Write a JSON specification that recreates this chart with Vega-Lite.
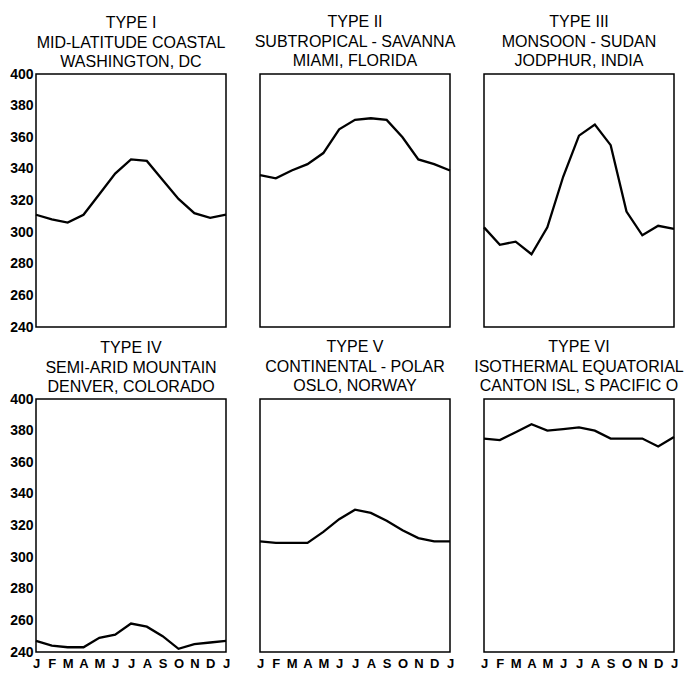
{
  "$schema": "https://vega.github.io/schema/vega-lite/v6.json",
  "background": "white",
  "padding": {"left": 8, "top": 13, "right": 2, "bottom": 4},
  "data": {"values": [
    {"p":1,"m":0,"v":311},{"p":1,"m":1,"v":308},{"p":1,"m":2,"v":306},{"p":1,"m":3,"v":311},{"p":1,"m":4,"v":324},{"p":1,"m":5,"v":337},{"p":1,"m":6,"v":346},{"p":1,"m":7,"v":345},{"p":1,"m":8,"v":333},{"p":1,"m":9,"v":321},{"p":1,"m":10,"v":312},{"p":1,"m":11,"v":309},{"p":1,"m":12,"v":311},
    {"p":2,"m":0,"v":336},{"p":2,"m":1,"v":334},{"p":2,"m":2,"v":339},{"p":2,"m":3,"v":343},{"p":2,"m":4,"v":350},{"p":2,"m":5,"v":365},{"p":2,"m":6,"v":371},{"p":2,"m":7,"v":372},{"p":2,"m":8,"v":371},{"p":2,"m":9,"v":360},{"p":2,"m":10,"v":346},{"p":2,"m":11,"v":343},{"p":2,"m":12,"v":339},
    {"p":3,"m":0,"v":303},{"p":3,"m":1,"v":292},{"p":3,"m":2,"v":294},{"p":3,"m":3,"v":286},{"p":3,"m":4,"v":303},{"p":3,"m":5,"v":335},{"p":3,"m":6,"v":361},{"p":3,"m":7,"v":368},{"p":3,"m":8,"v":355},{"p":3,"m":9,"v":313},{"p":3,"m":10,"v":298},{"p":3,"m":11,"v":304},{"p":3,"m":12,"v":302},
    {"p":4,"m":0,"v":247},{"p":4,"m":1,"v":244},{"p":4,"m":2,"v":243},{"p":4,"m":3,"v":243},{"p":4,"m":4,"v":249},{"p":4,"m":5,"v":251},{"p":4,"m":6,"v":258},{"p":4,"m":7,"v":256},{"p":4,"m":8,"v":250},{"p":4,"m":9,"v":242},{"p":4,"m":10,"v":245},{"p":4,"m":11,"v":246},{"p":4,"m":12,"v":247},
    {"p":5,"m":0,"v":310},{"p":5,"m":1,"v":309},{"p":5,"m":2,"v":309},{"p":5,"m":3,"v":309},{"p":5,"m":4,"v":316},{"p":5,"m":5,"v":324},{"p":5,"m":6,"v":330},{"p":5,"m":7,"v":328},{"p":5,"m":8,"v":323},{"p":5,"m":9,"v":317},{"p":5,"m":10,"v":312},{"p":5,"m":11,"v":310},{"p":5,"m":12,"v":310},
    {"p":6,"m":0,"v":375},{"p":6,"m":1,"v":374},{"p":6,"m":2,"v":379},{"p":6,"m":3,"v":384},{"p":6,"m":4,"v":380},{"p":6,"m":5,"v":381},{"p":6,"m":6,"v":382},{"p":6,"m":7,"v":380},{"p":6,"m":8,"v":375},{"p":6,"m":9,"v":375},{"p":6,"m":10,"v":375},{"p":6,"m":11,"v":370},{"p":6,"m":12,"v":376}
  ]},
  "columns": 3,
  "spacing": {"column": 34, "row": 72},
  "bounds": "flush",
  "concat": [
    {
      "title": {"text": ["TYPE I", "MID-LATITUDE COASTAL", "WASHINGTON, DC"], "offset": -3},
      "width": 190, "height": 253,
      "transform": [{"filter": "datum.p == 1"}],
      "mark": {"type": "line", "color": "black", "strokeWidth": 2.3},
      "encoding": {
        "x": {"field": "m", "type": "quantitative", "scale": {"domain": [0, 12], "nice": false}, "axis": null},
        "y": {"field": "v", "type": "quantitative", "scale": {"domain": [240, 400], "nice": false, "zero": false},
              "axis": {"values": [240,260,280,300,320,340,360,380,400], "domain": false, "ticks": false, "grid": false, "title": null, "labelFont": "Liberation Sans", "labelFontSize": 14, "labelFontWeight": "bold", "labelPadding": 3, "labelColor": "black", "labelOverlap": false}}
      }
    },
    {
      "title": {"text": ["TYPE II", "SUBTROPICAL - SAVANNA", "MIAMI, FLORIDA"]},
      "width": 190, "height": 253,
      "transform": [{"filter": "datum.p == 2"}],
      "mark": {"type": "line", "color": "black", "strokeWidth": 2.3},
      "encoding": {
        "x": {"field": "m", "type": "quantitative", "scale": {"domain": [0, 12], "nice": false}, "axis": null},
        "y": {"field": "v", "type": "quantitative", "scale": {"domain": [240, 400], "nice": false, "zero": false}, "axis": null}
      }
    },
    {
      "title": {"text": ["TYPE III", "MONSOON - SUDAN", "JODPHUR, INDIA"]},
      "width": 190, "height": 253,
      "transform": [{"filter": "datum.p == 3"}],
      "mark": {"type": "line", "color": "black", "strokeWidth": 2.3},
      "encoding": {
        "x": {"field": "m", "type": "quantitative", "scale": {"domain": [0, 12], "nice": false}, "axis": null},
        "y": {"field": "v", "type": "quantitative", "scale": {"domain": [240, 400], "nice": false, "zero": false}, "axis": null}
      }
    },
    {
      "title": {"text": ["TYPE IV", "SEMI-ARID MOUNTAIN", "DENVER, COLORADO"], "offset": -3},
      "width": 190, "height": 253,
      "transform": [{"filter": "datum.p == 4"}],
      "mark": {"type": "line", "color": "black", "strokeWidth": 2.3},
      "encoding": {
        "x": {"field": "m", "type": "quantitative", "scale": {"domain": [0, 12], "nice": false},
              "axis": {"values": [0,1,2,3,4,5,6,7,8,9,10,11,12], "labelExpr": "['J','F','M','A','M','J','J','A','S','O','N','D','J'][datum.value]", "domain": false, "ticks": false, "grid": false, "title": null, "labelFont": "Liberation Sans", "labelFontSize": 13, "labelFontWeight": "bold", "labelPadding": 5, "labelColor": "black", "labelOverlap": false, "labelFlush": false}},
        "y": {"field": "v", "type": "quantitative", "scale": {"domain": [240, 400], "nice": false, "zero": false},
              "axis": {"values": [240,260,280,300,320,340,360,380,400], "domain": false, "ticks": false, "grid": false, "title": null, "labelFont": "Liberation Sans", "labelFontSize": 14, "labelFontWeight": "bold", "labelPadding": 3, "labelColor": "black", "labelOverlap": false}}
      }
    },
    {
      "title": {"text": ["TYPE V", "CONTINENTAL - POLAR", "OSLO, NORWAY"]},
      "width": 190, "height": 253,
      "transform": [{"filter": "datum.p == 5"}],
      "mark": {"type": "line", "color": "black", "strokeWidth": 2.3},
      "encoding": {
        "x": {"field": "m", "type": "quantitative", "scale": {"domain": [0, 12], "nice": false},
              "axis": {"values": [0,1,2,3,4,5,6,7,8,9,10,11,12], "labelExpr": "['J','F','M','A','M','J','J','A','S','O','N','D','J'][datum.value]", "domain": false, "ticks": false, "grid": false, "title": null, "labelFont": "Liberation Sans", "labelFontSize": 13, "labelFontWeight": "bold", "labelPadding": 5, "labelColor": "black", "labelOverlap": false, "labelFlush": false}},
        "y": {"field": "v", "type": "quantitative", "scale": {"domain": [240, 400], "nice": false, "zero": false}, "axis": null}
      }
    },
    {
      "title": {"text": ["TYPE VI", "ISOTHERMAL EQUATORIAL", "CANTON ISL, S PACIFIC O"]},
      "width": 190, "height": 253,
      "transform": [{"filter": "datum.p == 6"}],
      "mark": {"type": "line", "color": "black", "strokeWidth": 2.3},
      "encoding": {
        "x": {"field": "m", "type": "quantitative", "scale": {"domain": [0, 12], "nice": false},
              "axis": {"values": [0,1,2,3,4,5,6,7,8,9,10,11,12], "labelExpr": "['J','F','M','A','M','J','J','A','S','O','N','D','J'][datum.value]", "domain": false, "ticks": false, "grid": false, "title": null, "labelFont": "Liberation Sans", "labelFontSize": 13, "labelFontWeight": "bold", "labelPadding": 5, "labelColor": "black", "labelOverlap": false, "labelFlush": false}},
        "y": {"field": "v", "type": "quantitative", "scale": {"domain": [240, 400], "nice": false, "zero": false}, "axis": null}
      }
    }
  ],
  "config": {
    "view": {"stroke": "black", "strokeWidth": 1.5},
    "title": {"font": "Liberation Sans", "fontSize": 16, "fontWeight": "normal", "color": "black", "lineHeight": 19.5, "offset": 5, "anchor": "middle"}
  }
}
